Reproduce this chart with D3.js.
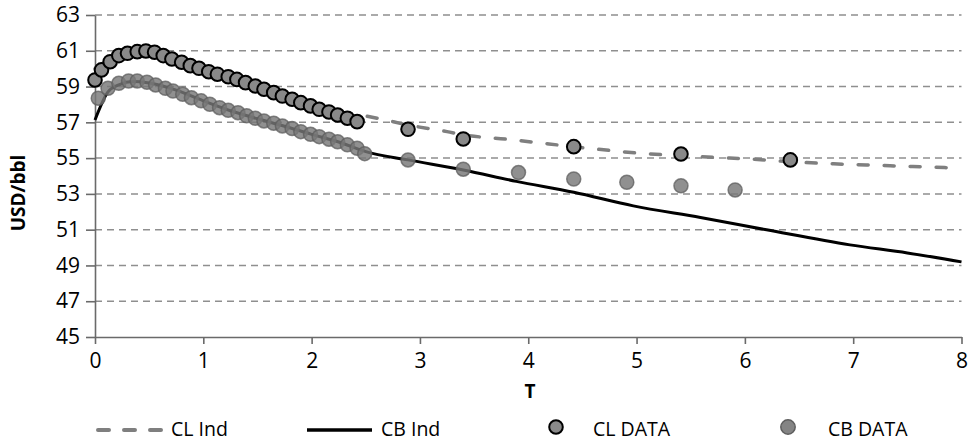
<!DOCTYPE html>
<html>
<head>
<meta charset="utf-8">
<script src="https://cdn.jsdelivr.net/npm/d3@7"></script>
<style>
    body { margin: 0; background: #fff; }
    text { font-family: "Open Sans", sans-serif; fill: #000; }
</style>
</head>
<body>
<svg id="chart" width="976" height="442"></svg>
<script>

// Monthly and later futures data (T in years, price in USD/bbl)
let clDataT = [0.00, 0.06, 0.14, 0.22, 0.30, 0.39, 0.47, 0.55, 0.63, 0.71, 0.80, 0.88, 0.96, 1.05, 1.13,
    1.23, 1.31, 1.39, 1.48, 1.56, 1.65, 1.73, 1.82, 1.90, 1.99, 2.07, 2.16, 2.24, 2.33, 2.42,
    2.89, 3.40, 4.42, 5.41, 6.42];
let clDataPrice = [59.37, 59.93, 60.39, 60.73, 60.86, 60.95, 60.99, 60.92, 60.73, 60.54, 60.36, 60.17, 60.02, 59.83, 59.69,
    59.55, 59.40, 59.22, 59.03, 58.85, 58.66, 58.47, 58.29, 58.10, 57.92, 57.73, 57.58, 57.41, 57.23, 57.04,
    56.61, 56.07, 55.64, 55.23, 54.90];

let cbDataT = [0.03, 0.12, 0.22, 0.31, 0.39, 0.48, 0.56, 0.65, 0.72, 0.81, 0.89, 0.98, 1.06, 1.15, 1.23,
    1.32, 1.40, 1.48, 1.56, 1.65, 1.73, 1.82, 1.90, 1.99, 2.07, 2.16, 2.24, 2.33, 2.42, 2.49,
    2.89, 3.40, 3.91, 4.42, 4.91, 5.41, 5.91];
let cbDataPrice = [58.35, 58.90, 59.18, 59.31, 59.31, 59.24, 59.09, 58.90, 58.75, 58.57, 58.38, 58.20, 58.01, 57.82, 57.67,
    57.54, 57.37, 57.23, 57.08, 56.95, 56.80, 56.65, 56.48, 56.33, 56.20, 56.06, 55.91, 55.74, 55.55, 55.25,
    54.90, 54.38, 54.19, 53.83, 53.65, 53.45, 53.22];

// Fitted curves
let clIndT = [0, 0.25, 0.5, 0.75, 1, 1.25, 1.5, 1.75, 2, 2.25, 2.45, 2.63, 2.89, 3.25, 3.4, 3.8, 4.05, 4.41,
    4.8, 5.03, 5.4, 5.74, 6.02, 6.42, 6.82, 7.12, 7.55, 8];
let clIndPrice = [60.0, 60.8, 60.95, 60.5, 60.0, 59.5, 59.0, 58.45, 58.0, 57.6, 57.41, 57.2, 56.85, 56.48, 56.3, 56.06, 55.89, 55.64,
    55.4, 55.27, 55.14, 55.03, 54.96, 54.8, 54.68, 54.62, 54.53, 54.44];

let cbIndT = [0, 0.12, 0.22, 0.35, 0.5, 0.75, 1, 1.25, 1.5, 1.75, 2, 2.25, 2.5, 2.89, 3.4, 3.89, 4.42, 4.97,
    5.59, 6.2, 6.97, 7.5, 8];
let cbIndPrice = [57.13, 58.7, 59.1, 59.28, 59.2, 58.8, 58.2, 57.65, 57.2, 56.78, 56.33, 55.9, 55.36, 54.9, 54.34, 53.7, 53.09, 52.33,
    51.68, 50.99, 50.15, 49.7, 49.2];

let xTicks = [0, 1, 2, 3, 4, 5, 6, 7, 8];
let yTicks = [45, 47, 49, 51, 53, 55, 57, 59, 61, 63];

let legendLabels = ["CL Ind", "CB Ind", "CL DATA", "CB DATA"];

let margins = { top: 15, left: 95, right: 14.5, bottom: 105 };
let width = 976 - margins.left - margins.right;
let height = 442 - margins.top - margins.bottom;

let svg = d3.select("#chart");
let g = svg.append("g")
    .attr("transform", "translate(" + margins.left + "," + margins.top + ")");

let x = d3.scaleLinear().domain([0, 8]).range([0, width]);
let y = d3.scaleLinear().domain([45, 63]).range([height, 0]);

// Horizontal dashed grid lines
g.append("g")
    .selectAll("line")
    .data(yTicks.filter(d => d !== 45))
    .enter()
    .append("line")
    .attr("x1", 0)
    .attr("x2", width)
    .attr("y1", d => y(d))
    .attr("y2", d => y(d))
    .attr("stroke", "#8f8f8f")
    .attr("stroke-width", 1.5)
    .attr("stroke-dasharray", "7,5");

// Axes
let yAxis = g.append("g")
    .call(d3.axisLeft(y).tickValues(yTicks).tickSize(9).tickPadding(6).tickSizeOuter(0));
let xAxis = g.append("g")
    .attr("transform", "translate(0," + height + ")")
    .call(d3.axisBottom(x).tickValues(xTicks).tickSize(7).tickPadding(9).tickSizeOuter(0));

[xAxis, yAxis].forEach(function (axis) {
    axis.select(".domain").attr("stroke", "#6a6a6a").attr("stroke-width", 1.6);
    axis.selectAll(".tick line").attr("stroke", "#6a6a6a").attr("stroke-width", 1.6);
    axis.selectAll(".tick text")
        .style("font-family", "'Open Sans', sans-serif")
        .style("font-size", "21px")
        .attr("fill", "#000");
});

// Axis titles
svg.append("text")
    .attr("x", 530)
    .attr("y", 398)
    .attr("text-anchor", "middle")
    .style("font-size", "19px")
    .style("font-weight", "bold")
    .text("T");

svg.append("text")
    .attr("transform", "translate(25,193) rotate(-90)")
    .attr("text-anchor", "middle")
    .style("font-size", "19px")
    .style("font-weight", "bold")
    .text("USD/bbl");

// Lines
let lineGen = d3.line()
    .x(d => x(d[0]))
    .y(d => y(d[1]))
    .curve(d3.curveMonotoneX);

g.append("path")
    .datum(d3.zip(clIndT, clIndPrice))
    .attr("d", lineGen)
    .attr("fill", "none")
    .attr("stroke", "#7f7f7f")
    .attr("stroke-width", 3.5)
    .attr("stroke-linecap", "round")
    .attr("stroke-dasharray", "10,16");

g.append("path")
    .datum(d3.zip(cbIndT, cbIndPrice))
    .attr("d", lineGen)
    .attr("fill", "none")
    .attr("stroke", "#000")
    .attr("stroke-width", 3);

// Data points
g.append("g")
    .selectAll("circle")
    .data(d3.zip(cbDataT, cbDataPrice))
    .enter()
    .append("circle")
    .attr("cx", d => x(d[0]))
    .attr("cy", d => y(d[1]))
    .attr("r", 7)
    .attr("fill", "#777")
    .attr("fill-opacity", 0.82)
    .attr("stroke", "#5e5e5e")
    .attr("stroke-opacity", 0.75)
    .attr("stroke-width", 1.5);

g.append("g")
    .selectAll("circle")
    .data(d3.zip(clDataT, clDataPrice))
    .enter()
    .append("circle")
    .attr("cx", d => x(d[0]))
    .attr("cy", d => y(d[1]))
    .attr("r", 6.8)
    .attr("fill", "#898989")
    .attr("stroke", "#000")
    .attr("stroke-width", 2);

// Legend
let legend = svg.append("g");

legend.append("line")
    .attr("x1", 98).attr("x2", 163)
    .attr("y1", 430).attr("y2", 430)
    .attr("stroke", "#7f7f7f")
    .attr("stroke-width", 4)
    .attr("stroke-linecap", "round")
    .attr("stroke-dasharray", "11,15");

legend.append("line")
    .attr("x1", 307).attr("x2", 372)
    .attr("y1", 430).attr("y2", 430)
    .attr("stroke", "#000")
    .attr("stroke-width", 3.5);

legend.append("circle")
    .attr("cx", 556).attr("cy", 427).attr("r", 6.8)
    .attr("fill", "#898989")
    .attr("stroke", "#000")
    .attr("stroke-width", 2);

legend.append("circle")
    .attr("cx", 788).attr("cy", 427).attr("r", 7.2)
    .attr("fill", "#777")
    .attr("fill-opacity", 0.9)
    .attr("stroke", "#5e5e5e")
    .attr("stroke-width", 1.5);

let legendX = [171, 381, 593, 828];
legend.selectAll("text")
    .data(legendLabels)
    .enter()
    .append("text")
    .attr("x", (d, i) => legendX[i])
    .attr("y", 436)
    .style("font-size", "19.5px")
    .text(d => d);

</script>
</body>
</html>
